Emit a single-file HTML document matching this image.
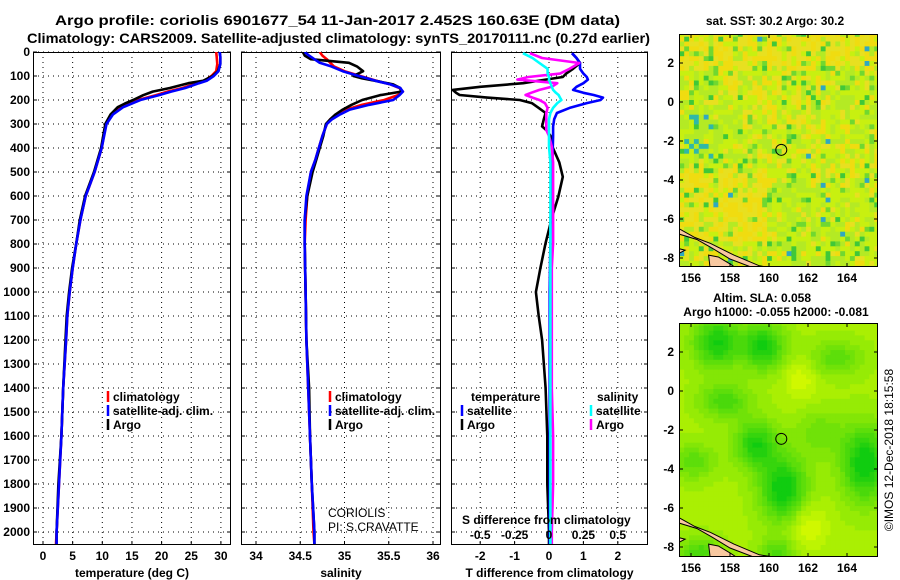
<!DOCTYPE html>
<html><head><meta charset="utf-8"><style>
html,body{margin:0;padding:0;background:#fff;width:900px;height:580px;overflow:hidden}
svg text{font-family:"Liberation Sans",sans-serif}
.b{font-weight:bold;font-size:12px}
.n{font-weight:normal;font-size:12px}
</style></head><body>
<svg id="s" width="900" height="580" viewBox="0 0 900 580" xmlns="http://www.w3.org/2000/svg">
<defs>
<clipPath id="c1"><rect x="33" y="52" width="198" height="493"/></clipPath>
<clipPath id="c2"><rect x="241" y="52" width="200" height="493"/></clipPath>
<clipPath id="c3"><rect x="451" y="52" width="197" height="493"/></clipPath>
<clipPath id="m1"><rect x="679" y="34" width="199" height="233"/></clipPath>
<clipPath id="m2"><rect x="679" y="323" width="199" height="234"/></clipPath>
</defs>
<text x="55" y="25" font-size="14" font-weight="bold" textLength="565" lengthAdjust="spacingAndGlyphs">Argo profile: coriolis 6901677_54 11-Jan-2017 2.452S 160.63E (DM data)</text>
<text x="27" y="43" font-size="14" font-weight="bold" textLength="623" lengthAdjust="spacingAndGlyphs">Climatology: CARS2009. Satellite-adjusted climatology: synTS_20170111.nc (0.27d earlier)</text>
<g id="g"></g>
</svg>
<script>
// ---- data ----
const depthsT=[0,20,50,80,100,120,130,150,165,180,200,215,230,260,300,400,500,600,700,800,900,1000,1100,1200,1400,1600,1800,2000,2050];
const tempArgo=[29.8,29.9,29.9,29.5,28.6,27,24.5,21.4,18.5,16.9,15.2,13.8,12.6,11.4,10.5,9.8,8.6,7.1,6.2,5.6,4.9,4.4,4.0,3.8,3.4,3.1,2.6,2.3,2.3];
const tempClim=[29.2,29.3,29.4,29.2,28.4,27.2,26,23.5,21,19,16,14.5,13.2,11.6,10.6,9.9,8.7,7.2,6.3,5.6,5.0,4.5,4.1,3.9,3.4,3.1,2.7,2.3,2.2];
const tempSat=[29.8,29.9,29.9,29.6,28.8,27.6,26.3,24,21.6,19.5,16.4,15,13.5,11.8,10.7,9.9,8.7,7.2,6.3,5.6,5.0,4.5,4.1,3.9,3.4,3.1,2.7,2.3,2.3];
const depthsS=[0,15,30,45,60,80,100,110,120,135,150,165,180,200,220,240,260,280,300,350,400,450,500,600,700,800,1000,1200,1400,1600,1800,2000,2050];
const salArgo=[34.53,34.55,34.62,35.05,35.14,35.21,35.1,35.2,35.35,35.55,35.63,35.64,35.4,35.2,35.08,34.98,34.9,34.84,34.79,34.76,34.72,34.68,34.64,34.58,34.55,34.55,34.56,34.57,34.6,34.61,34.63,34.66,34.66];
const salClim=[34.72,34.75,34.8,34.84,34.88,35.0,35.18,35.27,35.36,35.52,35.62,35.66,35.6,35.45,35.2,35.02,34.92,34.84,34.8,34.75,34.71,34.67,34.62,34.58,34.56,34.55,34.56,34.57,34.59,34.61,34.63,34.65,34.66];
const salSat=[34.55,34.6,34.66,34.72,34.85,34.98,35.16,35.26,35.35,35.52,35.63,35.66,35.62,35.55,35.28,35.06,34.95,34.86,34.8,34.75,34.71,34.67,34.62,34.57,34.55,34.55,34.56,34.57,34.59,34.61,34.63,34.66,34.66];
const depthsD=[5,25,46,70,90,104,115,130,145,158,170,179,190,200,213,233,254,280,310,325,350,395,460,520,603,687,796,900,1000,1100,1200,1400,1600,1800,2000,2050];
const dTArgo=[0.67,0.8,0.9,0.7,0.5,0.4,-0.1,-0.75,-2.0,-2.8,-2.7,-2.6,-1.8,-0.85,-0.5,-0.3,-0.1,-0.15,-0.2,-0.08,0.05,0.1,0.3,0.4,0.27,0.09,-0.1,-0.25,-0.38,-0.3,-0.2,-0.1,-0.05,-0.05,0,0];
const dTSat=[0.67,0.8,0.9,0.9,1.0,1.1,1.13,1.0,0.8,0.7,1.0,1.3,1.57,1.5,1.1,0.6,0.23,0.15,0.12,0.12,0.12,0.11,0.1,0.08,0.06,0.05,0.04,0.03,0.02,0.02,0.02,0.02,0.02,0.02,0.02,0.02];
const dSArgo=[-0.14,-0.05,0.22,0.15,0.08,-0.15,-0.23,0.06,0.02,-0.07,-0.13,-0.17,-0.12,-0.07,-0.03,-0.01,-0.02,-0.02,-0.02,-0.02,0,0.02,0.03,0.03,0.03,0.03,0.03,0.02,0.02,0.02,0.02,0.02,0.03,0.03,0.02,0.02];
const dSSat=[-0.19,-0.12,-0.07,-0.01,-0.01,0,0,0.01,0.02,0.03,0.05,0.07,0.08,0.09,0.06,0.03,0.01,0,0,0,0,0,0.01,0.01,0.01,0.01,0.01,0.01,0.01,0.01,0.01,0.01,0.01,0.01,0.01,0.01];
const depthTicks=[0,100,200,300,400,500,600,700,800,900,1000,1100,1200,1300,1400,1500,1600,1700,1800,1900,2000];
const tempTicks=[0,5,10,15,20,25,30];
const salTicks=[34,34.5,35,35.5,36];
const salTickLabels=["34","34.5","35","35.5","36"];
const dTTicks=[-2,-1,0,1,2];
const dSTicks=[-0.5,-0.25,0,0.25,0.5];
const dSTickLabels=["-0.5","-0.25","0","0.25","0.5"];
const lonTicks=[156,158,160,162,164];
const latTicks=[2,0,-2,-4,-6,-8];
const argoLon=160.63, argoLat=-2.452;

// ---- scales ----
const yD=d=>52+d*0.24;
const xT=t=>43+t*5.93;
const xS=s=>256+(s-34)*88.5;
const xdT=v=>549+v*34.4;
const xdS=v=>549+v*137.5;
const mX=lon=>691+(lon-156)*19.5;
const mY1=lat=>63+(2-lat)*19.5;
const mY2=lat=>352+(2-lat)*19.5;

const NS="http://www.w3.org/2000/svg";
const G=document.getElementById('g');
function el(tag,attrs,parent){const e=document.createElementNS(NS,tag);for(const k in attrs)e.setAttribute(k,attrs[k]);(parent||G).appendChild(e);return e;}
function txt(x,y,s,anchor,cls,parent){const t=el('text',{x:x,y:y,'text-anchor':anchor||'start','class':cls||'b'},parent);t.textContent=s;return t;}

function panel(name,x0,x1,xs,ticks,labels,clip,xlabel){
  const p=el('g',{});
  
  
  depthTicks.forEach(d=>{const y=yD(d);
    const l=el('line',{x1:x0,x2:x1,y1:y,y2:y,stroke:'#000','stroke-width':1,'stroke-dasharray':'1 4'},p);
    
    el('line',{x1:x0,x2:x0+4,y1:y,y2:y,stroke:'#000'},p);el('line',{x1:x1-4,x2:x1,y1:y,y2:y,stroke:'#000'},p);});
  ticks.forEach((t,i)=>{const x=xs(t);
    const l=el('line',{x1:x,x2:x,y1:52,y2:545,stroke:'#000','stroke-width':1,'stroke-dasharray':'1 4'},p);
    
    el('line',{x1:x,x2:x,y1:541,y2:545,stroke:'#000'},p);
    const tl=txt(x,560,labels[i],'middle','b',p);
    });
  const r=el('rect',{x:x0+0.5,y:52.5,width:x1-x0-1,height:492,fill:'none',stroke:'#000','stroke-width':1},p);
  
  const xl=txt((x0+x1)/2,577,xlabel,'middle','b',p);
  
  return p;
}
function line(p,depths,vals,xs,color,clip,name){
  const pts=depths.map((d,i)=>xs(vals[i]).toFixed(1)+','+yD(d).toFixed(1)).join(' ');
  const pl=el('polyline',{points:pts,fill:'none',stroke:color,'stroke-width':2.6,'stroke-linejoin':'round','clip-path':'url(#'+clip+')'},p);
  
}
function legend(p,x,y,color,label){
  const g=el('g',{},p);
  
  el('line',{x1:x,x2:x,y1:y-10,y2:y+1,stroke:color,'stroke-width':2.5},g);
  txt(x+5,y,label,'start','b',g);
}

depthTicks.forEach(d=>{const t=txt(30,yD(d)+4,String(d),'end');
  });

const p1=panel('temperature-panel',33,231,xT,tempTicks,tempTicks.map(String),'c1','temperature (deg C)');
line(p1,depthsT,tempClim,xT,'#f00','c1','temperature-climatology-line');
line(p1,depthsT,tempArgo,xT,'#000','c1','temperature-argo-line');
line(p1,depthsT,tempSat,xT,'#00f','c1','temperature-satellite-line');
legend(p1,108,401,'#f00','climatology');legend(p1,108,415,'#00f','satellite-adj. clim.');legend(p1,108,429,'#000','Argo');

const p2=panel('salinity-panel',241,441,xS,salTicks,salTickLabels,'c2','salinity');
line(p2,depthsS,salClim,xS,'#f00','c2','salinity-climatology-line');
line(p2,depthsS,salArgo,xS,'#000','c2','salinity-argo-line');
line(p2,depthsS,salSat,xS,'#00f','c2','salinity-satellite-line');
legend(p2,330,401,'#f00','climatology');legend(p2,330,415,'#00f','satellite-adj. clim.');legend(p2,330,429,'#000','Argo');
const c1=txt(328,517,'CORIOLIS','start','n',p2);
const c2=txt(328,531,'PI: S.CRAVATTE','start','n',p2);

const p3=panel('difference-panel',451,648,xdT,dTTicks,dTTicks.map(String),'c3','T difference from climatology');
line(p3,depthsD,dTArgo,xdT,'#000','c3','t-diff-argo-line');
line(p3,depthsD,dTSat,xdT,'#00f','c3','t-diff-satellite-line');
line(p3,depthsD,dSArgo,xdS,'#f0f','c3','s-diff-argo-line');
line(p3,depthsD,dSSat,xdS,'#0ff','c3','s-diff-satellite-line');
txt(471,401,'temperature','start','b',p3);txt(597,401,'salinity','start','b',p3);
legend(p3,462,415,'#00f','satellite');legend(p3,462,429,'#000','Argo');
legend(p3,591,415,'#0ff','satellite');legend(p3,591,429,'#f0f','Argo');
const st=txt(462,524,'S difference from climatology','start','b',p3);
dSTicks.forEach((v,i)=>{const t=txt(xdS(v),539,dSTickLabels[i],'middle','b',p3);
  });

// ---- maps ----
function hash(i,j){let h=(i*374761393+j*668265263)>>>0;h=((h^(h>>>13))*1274126177)>>>0;return ((h^(h>>>16))>>>0)/4294967296;}
function mapFrame(name,mY,top,bottom,clip,cellColor){
  const g=el('g',{});
  
  const cg=el('g',{'clip-path':'url(#'+clip+')'},g);
  for(let lon=155.4;lon<165.7;lon+=0.25){for(let lat=3.6;lat>-8.9;lat-=0.25){
    const i=Math.round(lon*4),j=Math.round(lat*4);
    el('rect',{x:mX(lon).toFixed(1),y:mY(lat).toFixed(1),width:5.4,height:5.4,fill:cellColor(lon,lat,i,j)},cg);}}
  const land=[[[155.3,-6.45],[156.2,-6.95],[157,-7.25],[158.2,-7.85],[159.5,-8.4],[160.2,-8.5],[160.2,-8.65],[159.3,-8.55],[158,-8.05],[157.1,-7.5],[156.3,-7.05],[155.3,-6.75]],
    [[156.9,-7.85],[157.4,-7.95],[158,-8.3],[158.6,-8.7],[157,-8.7]],[[155.3,-7.5],[155.7,-7.6],[155.3,-7.8]],[[160.7,-8.5],[161,-8.5],[161,-8.7],[160.7,-8.7]]];
  land.forEach(poly=>{const l=el('polygon',{points:poly.map(p=>mX(p[0]).toFixed(1)+','+mY(p[1]).toFixed(1)).join(' '),fill:'#f8c8a0',stroke:'#000','stroke-width':1},cg);
    });
  const c=el('circle',{cx:mX(argoLon),cy:mY(argoLat),r:5.5,fill:'none',stroke:'#000','stroke-width':1},g);
  
  el('rect',{x:679.5,y:top+0.5,width:198,height:bottom-top-1,fill:'none',stroke:'#000'},g);
  latTicks.forEach(l=>{const y=mY(l);el('line',{x1:679,x2:683,y1:y,y2:y,stroke:'#000'},g);el('line',{x1:874,x2:878,y1:y,y2:y,stroke:'#000'},g);
    const t=txt(674,y+4,String(l),'end','b',g);});
  lonTicks.forEach(l=>{const x=mX(l);el('line',{x1:x,x2:x,y1:bottom-4,y2:bottom,stroke:'#000'},g);el('line',{x1:x,x2:x,y1:top,y2:top+4,stroke:'#000'},g);
    const t=txt(x,bottom+15,String(l),'middle','b',g);});
  return g;
}
function sstColor(lon,lat,i,j){
  let y=0.4;
  if(lat>1.6)y=0.85;
  if(lon<159.7&&lat<-3.3&&lat>-7)y=0.9;
  if(lon>160&&lat<-4.2)y=0.15;
  if(lon<158.5&&lat<0&&lat>-3)y=0.1;
  if(lon>163&&lat<1&&lat>-1)y=0.15;
  const r=hash(i,j),r2=hash(j+7,i+3);
  if(lon<157&&lat<-0.5&&lat>-2.8&&r2<0.15)return '#30b8a8';
  if(r<y*0.8)return r2<0.5?'#f0dc10':'#e8e020';
  if(r<0.9)return r2<0.5?'#c8f010':'#b4ea24';
  if(r<0.99)return r2<0.5?'#70d830':'#40c838';
  return '#30a8c0';
}
const blobs=[[157.2,2.6,1.2,1.3],[159.6,2.4,1.1,1.2],[157.6,-0.4,1.3,0.9],[159.2,-2.6,1.1,1.2],[160.6,-4.9,1.2,1.7],[164.8,-3.6,1.2,1.9],[163.3,1.8,1.4,0.9],[156.3,-8.2,1.1,0.8],[160.3,-8.3,0.9,0.8],[156,-3.5,1.1,0.9],[162.5,-2,1.2,1.2],[161.8,-6.8,1.0,1.2],[161.5,0.8,0.9,1.1]];
const blobAmp=[0.75,0.75,0.5,0.7,0.85,0.85,0.4,0.5,0.5,0.4,0.3,-0.3,-0.25];
function slaColor(lon,lat){
  let f=0.22;blobs.forEach((b,k)=>{const dx=(lon-b[0])/b[2],dy=(lat-b[1])/b[3];f+=blobAmp[k]*Math.exp(-(dx*dx+dy*dy));});
  f=Math.max(0,Math.min(1,f));f=Math.round(f*10)/10;
  const a=[208,248,0],b=[16,204,16];
  return 'rgb('+a.map((v,k)=>Math.round(v+(b[k]-v)*f)).join(',')+')';
}
mapFrame('sst-map',mY1,34,267,'m1',sstColor);
mapFrame('sla-map',mY2,323,557,'m2',slaColor);
const t1=txt(775,25,'sat. SST: 30.2 Argo: 30.2','middle');
const t2=txt(762,302,'Altim. SLA: 0.058','middle');
const t3=txt(776,316,'Argo h1000: -0.055 h2000: -0.081','middle');
const cp=txt(0,0,'©IMOS 12-Dec-2018 18:15:58','middle','n');cp.setAttribute('transform','translate(893,450) rotate(-90)');

</script>
</body></html>
